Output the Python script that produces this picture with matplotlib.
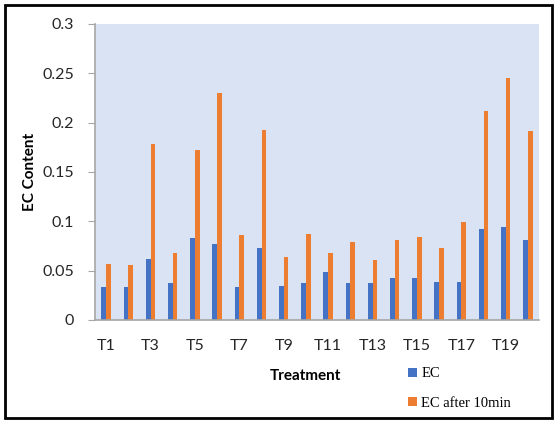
import numpy as np
import matplotlib.pyplot as plt
from matplotlib.patches import Rectangle

treatments = [f'T{i}' for i in range(1, 21)]
ec = [0.033, 0.033, 0.062, 0.037, 0.083, 0.077, 0.033, 0.073, 0.034, 0.038,
      0.049, 0.038, 0.037, 0.043, 0.043, 0.039, 0.039, 0.092, 0.094, 0.081]
ec_10min = [0.057, 0.056, 0.178, 0.068, 0.172, 0.230, 0.086, 0.193, 0.064, 0.087,
            0.068, 0.079, 0.061, 0.081, 0.084, 0.073, 0.099, 0.212, 0.245, 0.192]
y_ticks = [0, 0.05, 0.1, 0.15, 0.2, 0.25, 0.3]
y_labels = ['0', '0.05', '0.1', '0.15', '0.2', '0.25', '0.3']

plt.rcParams['font.family'] = ['Lato', 'DejaVu Sans']

fig = plt.figure(figsize=(5.57, 4.23), dpi=100)
ax = fig.add_axes([0.1706, 0.2435, 0.7971, 0.6998])
ax.set_facecolor('#DAE3F3')

x = np.arange(len(treatments))
w = 0.21
ax.bar(x - w / 2, ec, w, color='#4472C4', label='EC')
ax.bar(x + w / 2, ec_10min, w, color='#ED7D31', label='EC after 10min')

ax.set_xlim(-0.5, len(treatments) - 0.5)
ax.set_ylim(0, 0.3)
ax.set_yticks(y_ticks)
ax.set_yticklabels(y_labels, fontsize=11.5, color='#262626')
ax.set_xticks(x[::2])
ax.set_xticklabels(treatments[::2], fontsize=11.5, color='#262626')
ax.tick_params(axis='x', length=0, pad=14)
ax.tick_params(axis='y', length=5, color='#A6A6A6', pad=10)

for s in ['top', 'right']:
    ax.spines[s].set_visible(False)
for s in ['left', 'bottom']:
    ax.spines[s].set_color('#A6A6A6')
    ax.spines[s].set_linewidth(1.2)

ax.set_ylabel('EC Content', fontsize=11, fontweight='bold')
ax.yaxis.set_label_coords(-0.13, 0.5)
fig.text(0.5476, 0.111, 'Treatment', fontsize=11, fontweight='bold',
         ha='center', va='center')

fig.legend(loc='upper left', bbox_to_anchor=(0.722, 0.145),
           frameon=False, prop={'family': 'Liberation Serif', 'size': 10.5},
           handlelength=0.6, handleheight=0.6, handletextpad=0.3,
           labelspacing=1.1, borderaxespad=0)

# outer frame
fig.patches.append(Rectangle((0.009, 0.012), 0.982, 0.976, transform=fig.transFigure,
                             fill=False, edgecolor='black', linewidth=2))

fig.savefig('out.png', dpi=100)
